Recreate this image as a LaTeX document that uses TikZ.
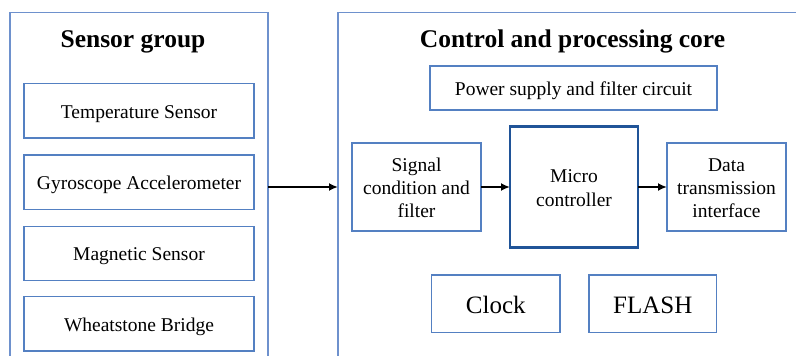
\documentclass[tikz,border=0pt]{standalone}
\usepackage{fontspec}
\setmainfont{Liberation Serif}
\usetikzlibrary{arrows.meta}
\definecolor{boxblue}{RGB}{84,128,194}
\definecolor{panelblue}{RGB}{110,145,205}
\definecolor{microblue}{RGB}{32,84,152}
\newcommand{\ml}[2][2.8pt]{\raisebox{-#1}[\height][\depth]{\begin{tabular}{@{}c@{}}#2\end{tabular}}}
\tikzset{
  blk/.style={draw=boxblue, line width=1.3pt, rectangle, inner sep=0pt, outer sep=0pt, align=center,
    font=\fontsize{19.5}{23.3}\selectfont},
  panel/.style={draw=panelblue, line width=1.3pt, rectangle, inner sep=0pt, outer sep=0pt},
  ttl/.style={font=\fontsize{25.5}{30}\selectfont\bfseries, inner sep=0pt, anchor=base},
  big/.style={blk, font=\fontsize{25}{30}\selectfont},
  conn/.style={line width=2pt, -{Latex[length=9pt,width=8pt]}}
}
\begin{document}
\begin{tikzpicture}[x=1pt,y=-1pt]
\useasboundingbox (0,0) rectangle (796,356);
\clip (0,0) rectangle (796,356);
% panels
\node[panel, minimum width=258pt, minimum height=370pt, anchor=north west] (lp) at (10,12.7) {};
\node[panel, minimum width=500pt, minimum height=370pt, anchor=north west] (rp) at (338,12.7) {};
\node[ttl] (t1) at (133,47) {Sensor group};
\node[ttl] (t2) at (572.5,47) {Control and processing core};
% sensor boxes
\node[blk, minimum width=230pt, minimum height=54.5pt] (temp) at (139,110.7) {\ml{Temperature Sensor}};
\node[blk, minimum width=230pt, minimum height=54.5pt] (gyro) at (139,182.3) {\ml{Gyroscope Accelerometer}};
\node[blk, minimum width=230pt, minimum height=54.5pt] (mag) at (139,253.5) {\ml{Magnetic Sensor}};
\node[blk, minimum width=230pt, minimum height=54.5pt] (wheat) at (139,323.7) {\ml{Wheatstone Bridge}};
% core boxes
\node[blk, minimum width=287pt, minimum height=44pt] (pwr) at (573.5,88) {\ml{Power supply and filter circuit}};
\node[blk, minimum width=129pt, minimum height=88pt] (sig) at (416.5,187) {\ml{Signal\\condition and\\filter}};
\node[blk, draw=microblue, line width=2.6pt, minimum width=128pt, minimum height=120.6pt] (mcu) at (574,187) {\ml{Micro\\controller}};
\node[blk, minimum width=119pt, minimum height=88pt] (data) at (726.5,187) {\ml{Data\\transmission\\interface}};
\node[big, minimum width=128.3pt, minimum height=57.7pt] (clk) at (495.8,303.8) {\ml[3.5pt]{Clock}};
\node[big, minimum width=127.7pt, minimum height=57.7pt] (flash) at (652.8,303.8) {\ml[3.5pt]{FLASH}};
% connectors
\draw[conn] (lp.east |- sig.center) -- (rp.west |- sig.center);
\draw[conn] (sig.east) -- (mcu.west |- sig.east);
\draw[conn] (mcu.east |- data.west) -- (data.west);
\end{tikzpicture}
\end{document}
